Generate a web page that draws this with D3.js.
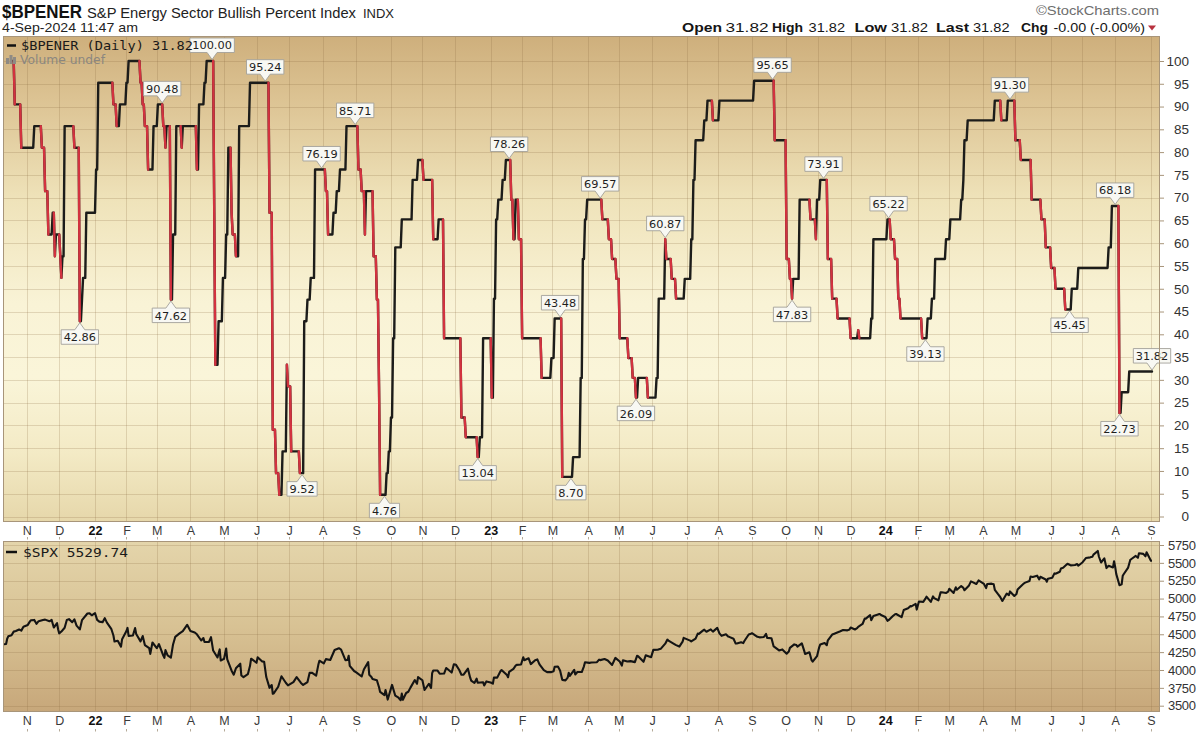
<!DOCTYPE html>
<html><head><meta charset="utf-8">
<script src="https://cdn.jsdelivr.net/npm/d3@7"></script>
<style>body{margin:0;background:#fff;}svg{display:block;}</style>
</head><body>
<svg id="c" width="1200" height="732"></svg>
<script>
// ---------------- DATA ----------------
const monthTickDates = ["2021-11-01","2021-12-01","2022-01-03","2022-02-01","2022-03-01","2022-04-01","2022-05-02","2022-06-01","2022-07-01","2022-08-01","2022-09-01","2022-10-03","2022-11-01","2022-12-01","2023-01-03","2023-02-01","2023-03-01","2023-04-03","2023-05-01","2023-06-01","2023-07-03","2023-08-01","2023-09-01","2023-10-02","2023-11-01","2023-12-01","2024-01-02","2024-02-01","2024-03-01","2024-04-01","2024-05-01","2024-06-03","2024-07-01","2024-08-01","2024-09-03"];
const monthTickLabels = ["N","D","22","F","M","A","M","J","J","A","S","O","N","D","23","F","M","A","M","J","J","A","S","O","N","D","24","F","M","A","M","J","J","A","S"];
const bpiTicks = [0,5,10,15,20,25,30,35,40,45,50,55,60,65,70,75,80,85,90,95,100];
const spxTicks = [3500,3750,4000,4250,4500,4750,5000,5250,5500,5750];

const bpiSeries = [
["2021-10-19",100],["2021-10-21",90.48],["2021-10-27",80.95],["2021-11-08",85.71],["2021-11-15",80.95],["2021-11-18",71.43],["2021-11-21",61.90],["2021-11-25",66.67],["2021-11-27",57.14],["2021-11-28",61.90],["2021-12-02",57.14],["2021-12-03",52.38],["2021-12-04",57.14],["2021-12-06",85.71],["2021-12-15",80.95],["2021-12-20",42.86],["2021-12-22",47.62],["2021-12-23",52.38],["2021-12-26",66.67],
["2022-01-04",76.19],["2022-01-06",95.24],["2022-01-20",90.48],["2022-01-23",85.71],["2022-01-26",90.48],["2022-02-01",95.24],["2022-02-03",100],["2022-02-14",95.24],["2022-02-16",90.48],["2022-02-18",85.71],["2022-02-21",76.19],["2022-02-26",85.71],["2022-03-02",90.48],["2022-03-07",85.71],["2022-03-09",80.95],["2022-03-10",85.71],["2022-03-14",47.62],["2022-03-16",61.90],["2022-03-19",85.71],["2022-03-24",80.95],["2022-03-25",85.71],["2022-04-07",76.19],["2022-04-09",90.48],["2022-04-14",95.24],["2022-04-16",100],["2022-04-23",66.67],["2022-04-24",33.33],["2022-04-27",42.86],["2022-05-01",52.38],["2022-05-04",61.90],["2022-05-06",80.95],["2022-05-09",66.67],["2022-05-10",61.90],["2022-05-13",57.14],["2022-05-16",85.71],["2022-05-26",95.24],["2022-06-13",66.67],["2022-06-16",19.05],["2022-06-19",9.52],["2022-06-22",4.76],["2022-06-25",14.29],["2022-06-29",33.33],["2022-06-30",28.57],["2022-07-03",14.29],["2022-07-11",9.52],["2022-07-15",42.86],["2022-07-18",47.62],["2022-07-21",52.38],["2022-07-25",76.19],["2022-08-04",71.43],["2022-08-06",61.90],["2022-08-11",66.67],["2022-08-14",71.43],["2022-08-17",76.19],["2022-08-23",85.71],["2022-09-03",76.19],["2022-09-06",71.43],["2022-09-09",61.90],["2022-09-10",71.43],["2022-09-17",57.14],["2022-09-20",47.62],["2022-09-22",28.57],["2022-09-23",4.76],["2022-09-29",9.52],["2022-10-01",14.29],["2022-10-03",21.74],["2022-10-05",39.13],["2022-10-07",59.09],["2022-10-13",65.22],["2022-10-23",73.91],["2022-10-28",78.26],["2022-11-02",73.91],["2022-11-11",60.87],["2022-11-16",65.22],["2022-11-21",39.13],["2022-12-07",21.74],["2022-12-11",17.39],["2022-12-22",13.04],["2022-12-24",17.39],["2022-12-27",39.13],
["2023-01-04",26.09],["2023-01-06",47.83],["2023-01-08",65.22],["2023-01-10",69.57],["2023-01-14",73.91],["2023-01-17",78.26],["2023-01-22",69.57],["2023-01-24",60.87],["2023-01-26",69.57],["2023-01-29",60.87],["2023-02-01",39.13],["2023-02-19",30.43],["2023-02-28",34.78],["2023-03-03",43.48],["2023-03-10",8.70],["2023-03-20",13.04],["2023-03-27",30.43],["2023-03-29",56.52],["2023-03-31",65.22],["2023-04-02",69.57],["2023-04-16",65.22],["2023-04-22",60.87],["2023-04-25",56.52],["2023-04-29",52.17],["2023-05-02",39.13],["2023-05-10",34.78],["2023-05-14",30.43],["2023-05-17",26.09],["2023-05-19",30.43],["2023-05-28",26.09],["2023-06-05",30.43],["2023-06-07",47.83],["2023-06-13",60.87],["2023-06-14",56.52],["2023-06-19",52.17],["2023-06-23",47.83],["2023-07-01",52.17],["2023-07-07",60.87],["2023-07-09",73.91],["2023-07-11",82.61],["2023-07-19",86.96],["2023-07-22",91.30],["2023-07-27",86.96],["2023-08-02",91.30],["2023-09-03",95.65],["2023-09-22",82.61],["2023-10-03",56.52],["2023-10-06",52.17],["2023-10-08",47.83],["2023-10-09",52.17],["2023-10-15",69.57],["2023-10-25",65.22],["2023-10-30",60.87],["2023-10-31",69.57],["2023-11-03",73.91],["2023-11-10",56.52],["2023-11-14",47.83],["2023-11-19",43.48],["2023-12-01",39.13],["2023-12-08",40.91],["2023-12-09",39.13],["2023-12-20",43.48],["2023-12-22",60.87],
["2024-01-04",65.22],["2024-01-07",60.87],["2024-01-11",56.52],["2024-01-14",47.83],["2024-01-16",43.48],["2024-02-05",39.13],["2024-02-10",43.48],["2024-02-14",47.83],["2024-02-17",56.52],["2024-02-27",60.87],["2024-03-02",65.22],["2024-03-12",69.57],["2024-03-14",73.91],["2024-03-15",82.61],["2024-03-18",86.96],["2024-04-12",91.30],["2024-04-18",86.96],["2024-04-24",91.30],["2024-05-01",82.61],["2024-05-06",78.26],["2024-05-16",69.57],["2024-05-25",65.22],["2024-05-29",59.09],["2024-06-03",54.55],["2024-06-07",50.00],["2024-06-16",45.45],["2024-06-22",50.00],["2024-06-28",54.55],["2024-07-26",59.09],["2024-07-29",68.18],["2024-08-05",22.73],["2024-08-07",27.27],["2024-08-14",31.82],["2024-09-04",31.82]
];

const labelDates  = ["2021-12-20","2022-03-06","2022-03-14","2022-04-21","2022-06-09","2022-07-13","2022-07-31","2022-08-31","2022-09-27","2022-12-22","2023-01-20","2023-03-08","2023-03-18","2023-04-14","2023-05-17","2023-06-13","2023-09-20","2023-10-08","2023-11-06","2024-01-05","2024-02-08","2024-04-26","2024-06-20","2024-08-01","2024-08-05","2024-09-04"];
const labelValues = [42.86,90.48,47.62,100,95.24,9.52,76.19,85.71,4.76,13.04,78.26,43.48,8.70,69.57,26.09,60.87,95.65,47.83,73.91,65.22,39.13,91.30,45.45,68.18,22.73,31.82];
const labelKinds  = ["low","high","low","high","high","low","high","high","low","low","high","high","low","high","low","high","high","low","high","high","low","high","low","high","low","high"];

const spxSeries = [
["2021-10-11",4361],["2021-10-13",4364],["2021-10-14",4438],["2021-10-15",4471],["2021-10-18",4486],["2021-10-20",4537],["2021-10-22",4545],["2021-10-25",4567],["2021-10-27",4551],["2021-10-29",4605],["2021-11-02",4631],["2021-11-04",4680],["2021-11-05",4697],["2021-11-08",4701],["2021-11-10",4646],["2021-11-12",4683],["2021-11-16",4701],["2021-11-18",4705],["2021-11-22",4682],["2021-11-24",4701],["2021-11-26",4595],["2021-11-29",4655],["2021-11-30",4567],["2021-12-01",4513],["2021-12-03",4538],["2021-12-06",4592],["2021-12-08",4701],["2021-12-10",4712],["2021-12-13",4669],["2021-12-15",4709],["2021-12-17",4621],["2021-12-20",4568],["2021-12-22",4697],["2021-12-27",4791],["2021-12-29",4793],["2021-12-31",4766],
["2022-01-03",4796],["2022-01-05",4701],["2022-01-07",4677],["2022-01-10",4670],["2022-01-12",4726],["2022-01-14",4663],["2022-01-18",4577],["2022-01-20",4483],["2022-01-21",4398],["2022-01-24",4410],["2022-01-27",4327],["2022-01-28",4432],["2022-02-01",4546],["2022-02-02",4589],["2022-02-03",4477],["2022-02-07",4484],["2022-02-09",4587],["2022-02-10",4504],["2022-02-14",4401],["2022-02-16",4475],["2022-02-18",4349],["2022-02-22",4305],["2022-02-23",4225],["2022-02-25",4385],["2022-03-01",4306],["2022-03-03",4363],["2022-03-07",4201],["2022-03-08",4170],["2022-03-09",4278],["2022-03-11",4204],["2022-03-14",4173],["2022-03-16",4358],["2022-03-18",4463],["2022-03-22",4512],["2022-03-25",4543],["2022-03-29",4632],["2022-04-01",4546],["2022-04-05",4525],["2022-04-07",4500],["2022-04-11",4413],["2022-04-13",4447],["2022-04-14",4393],["2022-04-18",4391],["2022-04-20",4459],["2022-04-22",4272],["2022-04-26",4175],["2022-04-28",4288],["2022-04-29",4132],["2022-05-02",4155],["2022-05-04",4300],["2022-05-05",4147],["2022-05-09",3991],["2022-05-11",3935],["2022-05-13",4024],["2022-05-17",4088],["2022-05-18",3923],["2022-05-20",3901],["2022-05-24",3941],["2022-05-26",4058],["2022-05-27",4158],["2022-06-01",4101],["2022-06-02",4177],["2022-06-06",4121],["2022-06-08",4116],["2022-06-10",3901],["2022-06-13",3750],["2022-06-15",3790],["2022-06-16",3667],["2022-06-17",3675],["2022-06-21",3765],["2022-06-24",3912],["2022-06-28",3821],["2022-06-30",3785],["2022-07-05",3831],["2022-07-08",3899],["2022-07-12",3819],["2022-07-14",3790],["2022-07-18",3831],["2022-07-20",3960],["2022-07-22",3962],["2022-07-26",3921],["2022-07-28",4072],["2022-07-29",4130],["2022-08-02",4091],["2022-08-04",4152],["2022-08-08",4140],["2022-08-10",4210],["2022-08-12",4280],["2022-08-16",4305],["2022-08-18",4284],["2022-08-22",4138],["2022-08-24",4141],["2022-08-25",4199],["2022-08-26",4058],["2022-08-30",3986],["2022-09-01",3967],["2022-09-06",3909],["2022-09-08",4006],["2022-09-12",4110],["2022-09-13",3932],["2022-09-15",3901],["2022-09-16",3873],["2022-09-20",3856],["2022-09-22",3758],["2022-09-23",3693],["2022-09-27",3647],["2022-09-28",3719],["2022-09-30",3586],["2022-10-04",3791],["2022-10-07",3640],["2022-10-10",3612],["2022-10-12",3577],["2022-10-13",3670],["2022-10-14",3583],["2022-10-17",3678],["2022-10-19",3695],["2022-10-21",3753],["2022-10-25",3859],["2022-10-27",3807],["2022-10-28",3901],["2022-11-01",3856],["2022-11-03",3720],["2022-11-07",3807],["2022-11-09",3749],["2022-11-10",3956],["2022-11-11",3993],["2022-11-15",3992],["2022-11-17",3947],["2022-11-21",3950],["2022-11-23",4028],["2022-11-28",3964],["2022-11-30",4080],["2022-12-02",4072],["2022-12-05",3999],["2022-12-07",3934],["2022-12-09",3934],["2022-12-13",4019],["2022-12-15",3896],["2022-12-16",3852],["2022-12-19",3818],["2022-12-21",3879],["2022-12-22",3822],["2022-12-27",3829],["2022-12-28",3783],["2022-12-30",3840],
["2023-01-03",3825],["2023-01-05",3808],["2023-01-06",3895],["2023-01-09",3893],["2023-01-12",3983],["2023-01-13",3999],["2023-01-18",3929],["2023-01-19",3899],["2023-01-20",3973],["2023-01-24",4017],["2023-01-26",4060],["2023-01-27",4071],["2023-01-31",4077],["2023-02-02",4179],["2023-02-03",4136],["2023-02-07",4164],["2023-02-09",4082],["2023-02-13",4137],["2023-02-15",4148],["2023-02-17",4079],["2023-02-21",3997],["2023-02-24",3970],["2023-02-28",3970],["2023-03-02",3982],["2023-03-03",4046],["2023-03-06",4048],["2023-03-08",3992],["2023-03-10",3862],["2023-03-13",3855],["2023-03-15",3892],["2023-03-16",3960],["2023-03-17",3917],["2023-03-21",4002],["2023-03-22",3937],["2023-03-24",3971],["2023-03-28",3971],["2023-03-30",4051],["2023-03-31",4109],["2023-04-04",4100],["2023-04-06",4105],["2023-04-11",4109],["2023-04-13",4146],["2023-04-14",4138],["2023-04-18",4154],["2023-04-21",4133],["2023-04-25",4071],["2023-04-27",4136],["2023-04-28",4169],["2023-05-02",4119],["2023-05-04",4061],["2023-05-05",4136],["2023-05-09",4119],["2023-05-12",4124],["2023-05-16",4110],["2023-05-18",4198],["2023-05-19",4192],["2023-05-24",4115],["2023-05-26",4205],["2023-05-31",4180],["2023-06-02",4282],["2023-06-06",4284],["2023-06-08",4294],["2023-06-09",4299],["2023-06-13",4369],["2023-06-15",4426],["2023-06-16",4410],["2023-06-21",4366],["2023-06-23",4348],["2023-06-26",4328],["2023-06-29",4396],["2023-06-30",4450],["2023-07-06",4411],["2023-07-07",4399],["2023-07-11",4439],["2023-07-13",4510],["2023-07-14",4505],["2023-07-18",4555],["2023-07-19",4565],["2023-07-21",4536],["2023-07-25",4568],["2023-07-27",4537],["2023-07-31",4589],["2023-08-02",4513],["2023-08-04",4478],["2023-08-08",4499],["2023-08-10",4468],["2023-08-11",4464],["2023-08-15",4437],["2023-08-17",4370],["2023-08-18",4370],["2023-08-22",4388],["2023-08-24",4376],["2023-08-25",4406],["2023-08-29",4497],["2023-08-31",4508],["2023-09-01",4515],["2023-09-06",4465],["2023-09-08",4457],["2023-09-12",4462],["2023-09-14",4505],["2023-09-15",4450],["2023-09-19",4444],["2023-09-21",4330],["2023-09-22",4320],["2023-09-26",4274],["2023-09-29",4288],["2023-10-03",4229],["2023-10-05",4258],["2023-10-06",4309],["2023-10-10",4358],["2023-10-12",4349],["2023-10-13",4327],["2023-10-17",4373],["2023-10-19",4278],["2023-10-20",4224],["2023-10-24",4248],["2023-10-26",4137],["2023-10-27",4117],["2023-10-31",4194],["2023-11-02",4318],["2023-11-03",4358],["2023-11-07",4378],["2023-11-09",4347],["2023-11-10",4415],["2023-11-14",4496],["2023-11-16",4508],["2023-11-17",4514],["2023-11-21",4538],["2023-11-24",4559],["2023-11-28",4555],["2023-11-30",4568],["2023-12-01",4595],["2023-12-05",4567],["2023-12-07",4585],["2023-12-08",4604],["2023-12-12",4644],["2023-12-14",4720],["2023-12-15",4719],["2023-12-19",4768],["2023-12-20",4698],["2023-12-22",4755],["2023-12-27",4782],["2023-12-28",4783],["2023-12-29",4770],
["2024-01-02",4743],["2024-01-04",4688],["2024-01-05",4697],["2024-01-09",4756],["2024-01-11",4780],["2024-01-12",4784],["2024-01-17",4739],["2024-01-19",4840],["2024-01-23",4865],["2024-01-25",4894],["2024-01-26",4891],["2024-01-30",4925],["2024-01-31",4846],["2024-02-02",4959],["2024-02-06",4954],["2024-02-08",4998],["2024-02-09",5027],["2024-02-13",4953],["2024-02-15",5030],["2024-02-16",5006],["2024-02-20",4976],["2024-02-22",5087],["2024-02-23",5089],["2024-02-27",5078],["2024-02-29",5096],["2024-03-01",5137],["2024-03-05",5079],["2024-03-07",5157],["2024-03-08",5124],["2024-03-12",5175],["2024-03-14",5150],["2024-03-15",5117],["2024-03-19",5178],["2024-03-21",5241],["2024-03-22",5234],["2024-03-26",5204],["2024-03-28",5254],["2024-04-02",5205],["2024-04-04",5147],["2024-04-05",5204],["2024-04-09",5209],["2024-04-11",5199],["2024-04-12",5123],["2024-04-15",5061],["2024-04-17",5022],["2024-04-19",4967],["2024-04-23",5070],["2024-04-25",5048],["2024-04-26",5100],["2024-04-30",5036],["2024-05-02",5064],["2024-05-03",5128],["2024-05-07",5187],["2024-05-09",5214],["2024-05-10",5223],["2024-05-14",5247],["2024-05-15",5308],["2024-05-17",5303],["2024-05-21",5321],["2024-05-23",5268],["2024-05-24",5305],["2024-05-29",5267],["2024-05-30",5236],["2024-05-31",5278],["2024-06-04",5291],["2024-06-06",5353],["2024-06-07",5347],["2024-06-11",5375],["2024-06-12",5421],["2024-06-14",5432],["2024-06-18",5487],["2024-06-20",5473],["2024-06-21",5465],["2024-06-25",5469],["2024-06-27",5483],["2024-06-28",5460],["2024-07-02",5509],["2024-07-05",5567],["2024-07-09",5577],["2024-07-11",5585],["2024-07-12",5615],["2024-07-16",5667],["2024-07-17",5589],["2024-07-19",5505],["2024-07-22",5564],["2024-07-24",5427],["2024-07-26",5459],["2024-07-30",5436],["2024-07-31",5522],["2024-08-01",5446],["2024-08-02",5346],["2024-08-05",5186],["2024-08-07",5199],["2024-08-08",5319],["2024-08-09",5344],["2024-08-13",5434],["2024-08-15",5543],["2024-08-16",5554],["2024-08-20",5597],["2024-08-22",5571],["2024-08-23",5634],["2024-08-27",5626],["2024-08-29",5592],["2024-08-30",5648],["2024-09-03",5528.93],["2024-09-04",5529.74]
];

// ---------------- CHART ----------------
const parse = d3.utcParse("%Y-%m-%d");
const svg = d3.select("#c");
const P1 = {l:3, r:1160, t:36, b:522};
const P2 = {l:3, r:1160, t:541, b:712};
const x = d3.scaleUtc().domain([parse("2021-11-01"), parse("2024-09-04")]).range([26.7, 1152]);
const yB = d3.scaleLinear().domain([0,100]).range([516.5, 61]);
const yS = d3.scaleLinear().domain([3500,5750]).range([705.7, 545]);
const SANS = "'Liberation Sans', Arial, sans-serif";
const MONO = "'DejaVu Sans Mono', monospace";

const defs = svg.append("defs");
const g1 = defs.append("linearGradient").attr("id","g1").attr("gradientUnits","userSpaceOnUse")
  .attr("x1",0).attr("y1",P1.t).attr("x2",0).attr("y2",P1.b);
[[0,"#ceaf7c"],[0.13,"#dcc393"],[0.34,"#efe3ba"],[0.55,"#f9f3d6"],[0.70,"#faf5d9"],[0.86,"#f3eac5"],[1,"#e6d7aa"]]
  .forEach(s=>g1.append("stop").attr("offset",s[0]).attr("stop-color",s[1]));
const g2 = defs.append("linearGradient").attr("id","g2").attr("gradientUnits","userSpaceOnUse")
  .attr("x1",0).attr("y1",P2.t).attr("x2",0).attr("y2",P2.b);
[[0,"#e4d5ab"],[0.5,"#d8c294"],[1,"#c7a77a"]].forEach(s=>g2.append("stop").attr("offset",s[0]).attr("stop-color",s[1]));
defs.append("clipPath").attr("id","c1").append("rect").attr("x",P1.l).attr("y",P1.t).attr("width",P1.r-P1.l).attr("height",P1.b-P1.t);
defs.append("clipPath").attr("id","c2").append("rect").attr("x",P2.l).attr("y",P2.t).attr("width",P2.r-P2.l).attr("height",P2.b-P2.t);

const tickDates = monthTickDates.map(parse);
const gridCol = "rgba(135,105,65,0.22)";

function panel(P, grad, yScale, yTicks){
  svg.append("rect").attr("x",P.l).attr("y",P.t).attr("width",P.r-P.l).attr("height",P.b-P.t).attr("fill",`url(#${grad})`);
  const g = svg.append("g");
  g.selectAll(".h").data(yTicks).join("line")
    .attr("x1",P.l).attr("x2",P.r).attr("y1",d=>Math.round(yScale(d))+0.5).attr("y2",d=>Math.round(yScale(d))+0.5)
    .attr("stroke",gridCol).attr("stroke-width",1);
  g.selectAll(".v").data(tickDates).join("line")
    .attr("y1",P.t).attr("y2",P.b).attr("x1",d=>Math.round(x(d))+0.5).attr("x2",d=>Math.round(x(d))+0.5)
    .attr("stroke",gridCol).attr("stroke-width",1);
}
panel(P1,"g1",yB,bpiTicks);
panel(P2,"g2",yS,spxTicks);

// ---- BPI line (black rising/flat, red falling)
const pts = bpiSeries.map(d=>({t:parse(d[0]), v:d[1]}));
const rp = [pts[0]];
for (let i=1;i<pts.length;i++){
  const hold = new Date(pts[i].t.getTime() - 86400000);
  if (hold > pts[i-1].t) rp.push({t:hold, v:pts[i-1].v});
  rp.push(pts[i]);
}
const lineB = d3.line().x(d=>x(d.t)).y(d=>yB(d.v));
const gl = svg.append("g").attr("clip-path","url(#c1)");
gl.append("path").attr("d",lineB(rp)).attr("fill","none").attr("stroke","#1c1c1a").attr("stroke-width",2.4)
  .attr("stroke-linejoin","round").attr("stroke-linecap","round");
const redRuns = []; let run = null;
for (let j=1;j<rp.length;j++){
  if (rp[j].v < rp[j-1].v){ if(!run){run=[rp[j-1]]; redRuns.push(run);} run.push(rp[j]); }
  else run = null;
}
gl.selectAll(".red").data(redRuns).join("path").attr("d",lineB).attr("fill","none")
  .attr("stroke","#d2323f").attr("stroke-width",2.4).attr("stroke-linejoin","round").attr("stroke-linecap","round");

// ---- SPX line
const sp = spxSeries.map(d=>({t:parse(d[0]), v:d[1]}));
svg.append("g").attr("clip-path","url(#c2)").append("path")
  .attr("d", d3.line().x(d=>x(d.t)).y(d=>yS(d.v))(sp))
  .attr("fill","none").attr("stroke","#141414").attr("stroke-width",2.1).attr("stroke-linejoin","round");

// ---- Annotations
const ga = svg.append("g");
labelDates.forEach((ds,i)=>{
  const px = x(parse(ds)), py = yB(labelValues[i]), hi = labelKinds[i]==="high";
  const txt = labelValues[i].toFixed(2);
  const t = ga.append("text").text(txt).attr("font-family","'DejaVu Sans', Verdana, sans-serif").attr("font-size",11.3);
  const w = t.node().getComputedTextLength() + 5, h = 14.5, pg = 7;
  const L = px - w/2, R = px + w/2;
  let d;
  if (hi){ const bb = py - 1.5 - pg, tt = bb - h;
    d = `M${L},${tt}H${R}V${bb}H${px+5}L${px},${py-1.5}L${px-5},${bb}H${L}Z`;
    t.attr("x",px).attr("y",tt+h/2+4.2);
  } else { const tt = py + 1.5 + pg, bb = tt + h;
    d = `M${L},${tt}H${px-5}L${px},${py+1.5}L${px+5},${tt}H${R}V${bb}H${L}Z`;
    t.attr("x",px).attr("y",tt+h/2+4.2);
  }
  ga.insert("path","text").attr("d",d).attr("fill","#f8f8f3").attr("stroke","#a3a09a").attr("stroke-width",0.9);
  t.attr("text-anchor","middle").attr("fill","#1e1e1e");
});

// ---- Panel borders
[P1,P2].forEach(P=>svg.append("rect").attr("x",P.l+0.5).attr("y",P.t+0.5).attr("width",P.r-P.l-1).attr("height",P.b-P.t-1)
  .attr("fill","none").attr("stroke","#a8957a").attr("stroke-width",1));

// ---- Axes
const ax1 = svg.append("g").attr("transform",`translate(${P1.r},0)`)
  .call(d3.axisRight(yB).tickValues(bpiTicks).tickSize(4).tickPadding(3));
ax1.select(".domain").remove();
ax1.selectAll("line").attr("stroke","#a8957a");
ax1.selectAll("text").attr("text-anchor","end").attr("x",29).attr("font-family",SANS).attr("font-size",13.5).attr("fill","#333");
const ax2 = svg.append("g").attr("transform",`translate(${P2.r},0)`)
  .call(d3.axisRight(yS).tickValues(spxTicks).tickFormat(d3.format("d")).tickSize(4).tickPadding(4));
ax2.select(".domain").remove();
ax2.selectAll("line").attr("stroke","#a8957a");
ax2.selectAll("text").attr("font-family",SANS).attr("font-size",13).attr("fill","#333").attr("letter-spacing","-0.3");

function xAxis(yPos, pad){
  const a = svg.append("g").attr("transform",`translate(0,${yPos})`)
    .call(d3.axisBottom(x).tickValues(tickDates).tickFormat((d,i)=>monthTickLabels[i]).tickSize(0).tickPadding(pad));
  a.select(".domain").remove();
  a.selectAll("text").attr("font-family",SANS).attr("font-size",12.5)
    .attr("font-weight",(d,i)=>/\d/.test(monthTickLabels[i])?"bold":"normal")
    .attr("fill",(d,i)=>/\d/.test(monthTickLabels[i])?"#111":"#3a3a3a");
  return a;
}
xAxis(P1.b, 4.5);
xAxis(P2.b, 4);
[[537,539.5],[729,731.5]].forEach(r=>svg.append("g").selectAll("line").data(tickDates).join("line")
  .attr("x1",d=>Math.round(x(d))+0.5).attr("x2",d=>Math.round(x(d))+0.5).attr("y1",r[0]).attr("y2",r[1])
  .attr("stroke","#b5aa98"));

// ---- Legends
const lg = svg.append("g");
lg.append("line").attr("x1",7).attr("x2",16).attr("y1",45.5).attr("y2",45.5).attr("stroke","#111").attr("stroke-width",2.5);
lg.append("text").attr("x",21).attr("y",50).text("$BPENER (Daily) 31.82").attr("font-family",MONO).attr("font-size",13)
  .attr("fill","#1a1a1a").attr("textLength",172).attr("lengthAdjust","spacingAndGlyphs");
[[6,58,3,6],[9.5,55,3,9],[13,57,3,7]].forEach(b=>lg.append("rect").attr("x",b[0]).attr("y",b[1]).attr("width",b[2]).attr("height",b[3]).attr("fill","#8e8a84"));
lg.append("text").attr("x",20).attr("y",64).text("Volume undef").attr("font-family","'DejaVu Sans', Verdana, sans-serif").attr("font-size",11.5)
  .attr("fill","#8b8780").attr("textLength",85).attr("lengthAdjust","spacingAndGlyphs");
lg.append("line").attr("x1",6).attr("x2",17).attr("y1",552).attr("y2",552).attr("stroke","#111").attr("stroke-width",2.5);
lg.append("text").attr("x",23).attr("y",556.5).text("$SPX 5529.74").attr("font-family",MONO).attr("font-size",13)
  .attr("fill","#1a1a1a").attr("textLength",105).attr("lengthAdjust","spacingAndGlyphs");

// ---- Header
const hd = svg.append("g").attr("font-family",SANS);
hd.append("text").attr("x",2).attr("y",18).text("$BPENER").attr("font-weight","bold").attr("font-size",19)
  .attr("fill","#111").attr("textLength",80).attr("lengthAdjust","spacingAndGlyphs");
hd.append("text").attr("x",87).attr("y",18).text("S&P Energy Sector Bullish Percent Index").attr("font-size",14)
  .attr("fill","#222").attr("textLength",269).attr("lengthAdjust","spacingAndGlyphs");
hd.append("text").attr("x",363).attr("y",18).text("INDX").attr("font-size",12).attr("fill","#222")
  .attr("textLength",31).attr("lengthAdjust","spacingAndGlyphs");
hd.append("text").attr("x",2).attr("y",32).text("4-Sep-2024 11:47 am").attr("font-size",13).attr("fill","#222")
  .attr("textLength",136).attr("lengthAdjust","spacingAndGlyphs");
hd.append("text").attr("x",1036).attr("y",15).text("\u00A9StockCharts.com").attr("font-size",13).attr("fill","#6e6e6e")
  .attr("textLength",123).attr("lengthAdjust","spacingAndGlyphs");
const ohlc = [["Open",682,true,40],["31.82",725.5,false,43],["High",772,true,31],["31.82",808.6,false,36.5],["Low",854.5,true,32.5],["31.82",891,false,37],["Last",936,true,33],["31.82",973,false,36.5],["Chg",1021,true,27],["-0.00 (-0.00%)",1053.5,false,91.5]];
ohlc.forEach(o=>hd.append("text").attr("x",o[1]).attr("y",32).text(o[0]).attr("font-size",13.5)
  .attr("font-weight",o[2]?"bold":"normal").attr("fill","#151515").attr("textLength",o[3]).attr("lengthAdjust","spacingAndGlyphs"));
hd.append("path").attr("d","M1148,25.5L1156,25.5L1152,30.5Z").attr("fill","#b8323f");
</script>
</body></html>
